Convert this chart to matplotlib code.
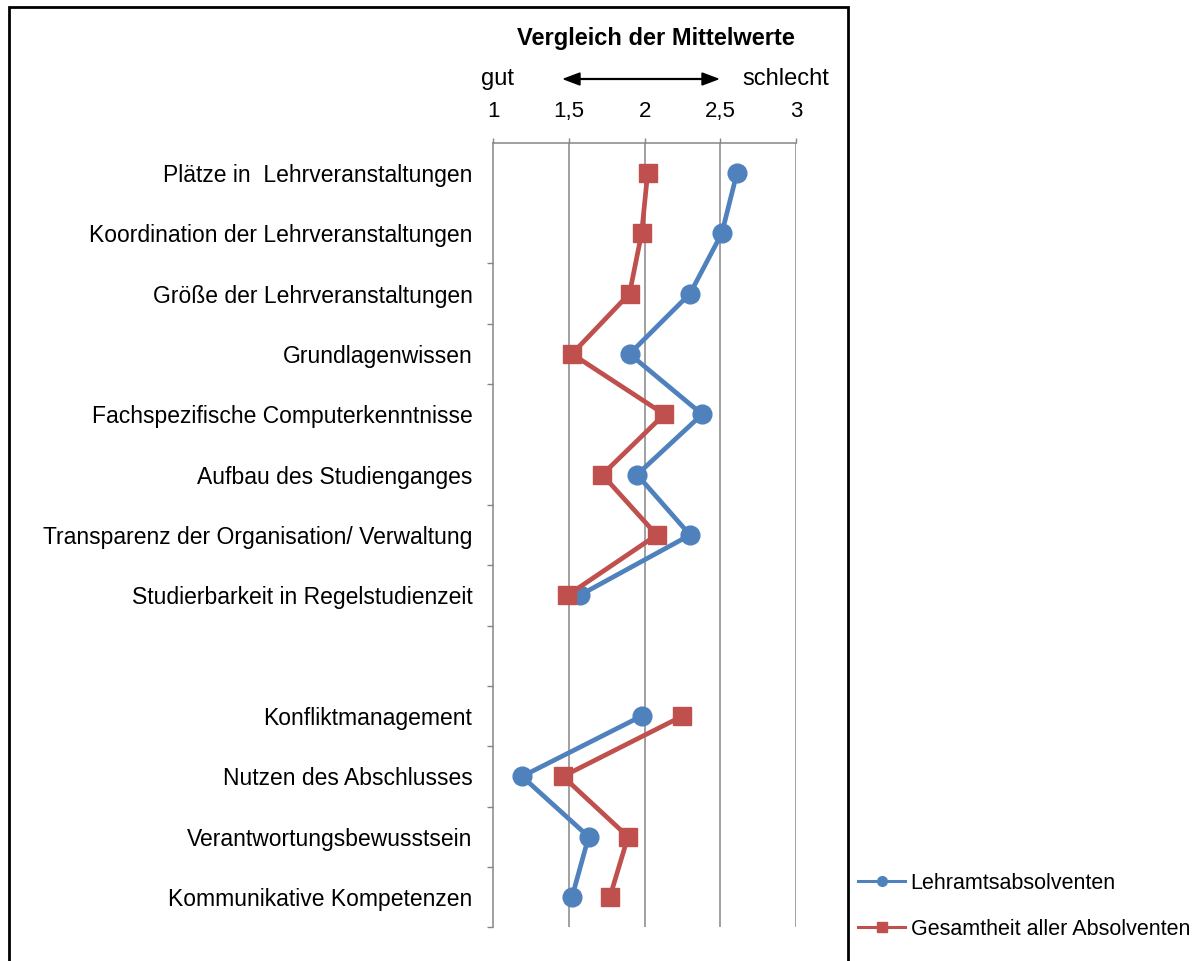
import numpy as np
import matplotlib
matplotlib.use("Agg")
import matplotlib.pyplot as plt
from matplotlib.patches import Rectangle
from matplotlib.lines import Line2D

plt.rcParams["font.family"] = ["Liberation Sans", "DejaVu Sans"]

# Items, top to bottom; the empty entry separates the two groups
categories = [
    "Plätze in  Lehrveranstaltungen",
    "Koordination der Lehrveranstaltungen",
    "Größe der Lehrveranstaltungen",
    "Grundlagenwissen",
    "Fachspezifische Computerkenntnisse",
    "Aufbau des Studienganges",
    "Transparenz der Organisation/ Verwaltung",
    "Studierbarkeit in Regelstudienzeit",
    "",
    "Konfliktmanagement",
    "Nutzen des Abschlusses",
    "Verantwortungsbewusstsein",
    "Kommunikative Kompetenzen",
]

lehramt = [2.61, 2.51, 2.30, 1.90, 2.38, 1.95, 2.30, 1.57, np.nan,
           1.98, 1.19, 1.63, 1.52]
gesamt = [2.02, 1.98, 1.90, 1.52, 2.13, 1.72, 2.08, 1.49, np.nan,
          2.25, 1.46, 1.89, 1.77]

series_names = ["Lehramtsabsolventen", "Gesamtheit aller Absolventen"]
x_ticks = [1, 1.5, 2, 2.5, 3]
x_tick_labels = ["1", "1,5", "2", "2,5", "3"]

BLUE = "#4F81BD"
RED = "#C0504D"
GRID = "#868686"

W, H = 1194, 961
fig = plt.figure(figsize=(W / 100, H / 100), dpi=100)


def fx(px):
    return px / W


def fy(py):
    return 1 - py / H


ax = fig.add_axes([fx(493.3), fy(927.3), fx(796) - fx(493.3), fy(142.7) - fy(927.3)])

pos = np.arange(len(categories))
ax.plot(lehramt, pos, color=BLUE, lw=3.4, marker="o", ms=13.5, zorder=3,
        solid_capstyle="round")
ax.plot(gesamt, pos, color=RED, lw=3.4, marker="s", ms=13, zorder=4,
        solid_capstyle="round")

ax.set_xlim(1, 3)
ax.set_ylim(len(categories) - 0.5, -0.5)

# x axis on top
ax.xaxis.tick_top()
ax.set_xticks(x_ticks)
ax.set_xticklabels(x_tick_labels, fontsize=16)
ax.tick_params(axis="x", which="major", direction="out", length=3.5, width=1,
               color=GRID, pad=11.5)
for xv in x_ticks[1:]:
    ax.axvline(xv, color=GRID, lw=1.1, zorder=1)

# category labels at centres, tick marks at boundaries
ax.set_yticks(pos)
ax.set_yticklabels(categories, fontsize=16.5)
ax.tick_params(axis="y", which="major", length=0, pad=15)
boundaries = [k - 0.5 for k in range(1, len(categories) + 1) if k not in (1, 5)]
ax.set_yticks(boundaries, minor=True)
ax.tick_params(axis="y", which="minor", direction="out", length=4.5, width=1,
               color=GRID)

for side in ("right", "bottom"):
    ax.spines[side].set_visible(False)
for side in ("left", "top"):
    ax.spines[side].set_color(GRID)
    ax.spines[side].set_linewidth(1.1)

# heading and scale direction
fig.text(fx(656), fy(38), "Vergleich der Mittelwerte", fontsize=17,
         fontweight="bold", ha="center", va="center")
fig.text(fx(497), fy(79), "gut", fontsize=17, ha="center", va="center")
fig.text(fx(786), fy(79), "schlecht", fontsize=17, ha="center", va="center")
fig.add_artist(plt.Line2D([fx(577), fx(706)], [fy(79), fy(79)], color="black", lw=1.6))
fig.patches.append(plt.Polygon([[fx(564), fy(79)], [fx(580), fy(73)], [fx(580), fy(85)]],
                               closed=True, color="black", transform=fig.transFigure))
fig.patches.append(plt.Polygon([[fx(718), fy(79)], [fx(702), fy(73)], [fx(702), fy(85)]],
                               closed=True, color="black", transform=fig.transFigure))

# legend
handles = [
    Line2D([], [], color=BLUE, lw=2.2, marker="o", ms=7),
    Line2D([], [], color=RED, lw=2.2, marker="s", ms=7),
]
fig.legend(handles, series_names, loc="upper left",
           bbox_to_anchor=(fx(858), fy(873)), frameon=False, fontsize=15.5,
           handlelength=2.2, handletextpad=0.25, labelspacing=1.15,
           borderaxespad=0, borderpad=0)

# outer frame
fig.patches.append(Rectangle((fx(9), fy(975)), fx(848) - fx(9), fy(7) - fy(975),
                             fill=False, edgecolor="black", lw=2,
                             transform=fig.transFigure))

fig.savefig("out.png", dpi=100)
